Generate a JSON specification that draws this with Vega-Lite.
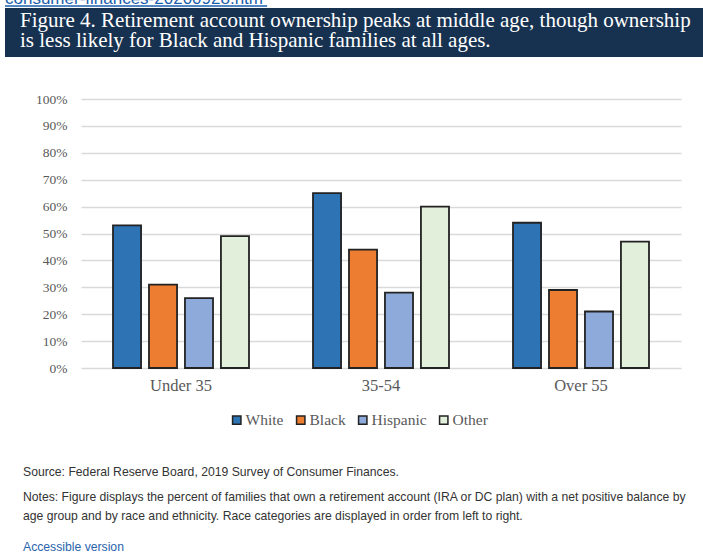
{
  "$schema": "https://vega.github.io/schema/vega-lite/v6.json",
  "padding": {"left": 4, "top": 0, "right": 0, "bottom": 0},
  "background": "white",
  "columns": 1,
  "spacing": 35,
  "resolve": {"legend": {"color": "independent"}},
  "config": {"view": {"stroke": null}},
  "concat": [
    {
      "columns": 1,
      "spacing": 0,
      "concat": [
        {
          "width": 699,
          "height": 8,
          "data": {"values": [{"link": "consumer-finances-20200928.htm"}]},
          "layer": [
            {
              "mark": {"type": "text", "clip": true, "font": "Liberation Sans", "fontSize": 17, "color": "#1a5dab", "align": "left", "baseline": "alphabetic"},
              "encoding": {
                "text": {"field": "link", "type": "nominal"},
                "x": {"datum": 0, "type": "quantitative", "scale": {"domain": [0, 1]}, "axis": null},
                "y": {"datum": 0.5, "type": "quantitative", "scale": {"domain": [0, 1]}, "axis": null}
              }
            },
            {
              "mark": {"type": "rule", "color": "#1a5dab", "strokeWidth": 1.5},
              "encoding": {
                "x": {"datum": 0, "type": "quantitative"},
                "x2": {"datum": 0.375},
                "y": {"datum": 0.25, "type": "quantitative"}
              }
            }
          ]
        },
        {
          "width": 699,
          "height": 49,
          "view": {"fill": "#173250", "stroke": null},
          "data": {"values": [{"title": "Figure 4. Retirement account ownership peaks at middle age, though ownership\nis less likely for Black and Hispanic families at all ages."}]},
          "mark": {"type": "text", "font": "Liberation Serif", "fontSize": 21, "color": "white", "align": "left", "baseline": "middle", "lineBreak": "\n", "lineHeight": 19.5, "dx": 15, "dy": -11.5},
          "encoding": {
            "text": {"field": "title", "type": "nominal"},
            "x": {"datum": 0, "type": "quantitative", "scale": {"domain": [0, 1]}, "axis": null}
          }
        }
      ]
    },
    {
      "columns": 1,
      "spacing": 30,
      "resolve": {"legend": {"color": "independent"}},
      "concat": [
        {
          "spacing": 0,
          "resolve": {"scale": {"y": "independent"}, "axis": {"y": "independent"}, "legend": {"color": "independent"}},
          "data": {
            "values": [
              {"age": "Under 35", "race": "White", "pct": 53},
              {"age": "Under 35", "race": "Black", "pct": 31},
              {"age": "Under 35", "race": "Hispanic", "pct": 26},
              {"age": "Under 35", "race": "Other", "pct": 49},
              {"age": "35-54", "race": "White", "pct": 65},
              {"age": "35-54", "race": "Black", "pct": 44},
              {"age": "35-54", "race": "Hispanic", "pct": 28},
              {"age": "35-54", "race": "Other", "pct": 60},
              {"age": "Over 55", "race": "White", "pct": 54},
              {"age": "Over 55", "race": "Black", "pct": 29},
              {"age": "Over 55", "race": "Hispanic", "pct": 21},
              {"age": "Over 55", "race": "Other", "pct": 47}
            ]
          },
          "hconcat": [
            {
              "width": 76,
              "height": 269,
              "mark": {"type": "point", "opacity": 0},
              "encoding": {
                "y": {
                  "field": "pct", "type": "quantitative",
                  "scale": {"domain": [0, 100]},
                  "axis": {"title": null, "orient": "left", "offset": -76, "values": [0, 10, 20, 30, 40, 50, 60, 70, 80, 90, 100], "labelExpr": "datum.value + '%'", "domain": false, "ticks": false, "grid": false, "labelFont": "Liberation Serif", "labelFontSize": 13.5, "labelColor": "#595959", "labelPadding": 14}
                }
              }
            },
            {
              "width": 600,
              "height": 269,
              "mark": {"type": "bar", "stroke": "#222222", "strokeWidth": 1.8},
              "encoding": {
                "x": {
                  "field": "age", "type": "nominal", "sort": ["Under 35", "35-54", "Over 55"],
                  "scale": {"paddingInner": 0.32, "paddingOuter": 0.16},
                  "axis": {"title": null, "labelAngle": 0, "domain": false, "ticks": false, "labelFont": "Liberation Serif", "labelFontSize": 16.5, "labelColor": "#595959", "labelPadding": 9}
                },
                "xOffset": {
                  "field": "race", "type": "nominal", "sort": ["White", "Black", "Hispanic", "Other"],
                  "scale": {"paddingInner": 0.22, "paddingOuter": 0}
                },
                "y": {
                  "field": "pct", "type": "quantitative",
                  "scale": {"domain": [0, 100]},
                  "axis": {"title": null, "values": [0, 10, 20, 30, 40, 50, 60, 70, 80, 90, 100], "labels": false, "domain": false, "ticks": false, "gridColor": "#d9d9d9", "gridWidth": 1.5, "minExtent": 0, "maxExtent": 0}
                },
                "color": {
                  "field": "race", "type": "nominal", "sort": ["White", "Black", "Hispanic", "Other"],
                  "scale": {"domain": ["White", "Black", "Hispanic", "Other"], "range": ["#2e73b3", "#ed7d31", "#8eaadb", "#e2efda"]},
                  "legend": {"orient": "none", "legendX": 148, "legendY": 313, "direction": "horizontal", "title": null, "symbolType": "square", "symbolSize": 70, "symbolStrokeColor": "#222222", "symbolStrokeWidth": 1.5, "labelFont": "Liberation Serif", "labelFontSize": 15.5, "labelColor": "#595959", "labelOffset": 1, "columnPadding": 9}
                }
              }
            }
          ]
        },
        {
          "width": 699,
          "height": 100,
          "data": {
            "values": [
              {"order": 1, "note": "Source: Federal Reserve Board, 2019 Survey of Consumer Finances."},
              {"order": 2, "note": "Notes: Figure displays the percent of families that own a retirement account (IRA or DC plan) with a net positive balance by\nage group and by race and ethnicity. Race categories are displayed in order from left to right."},
              {"order": 4, "note": "Accessible version"}
            ]
          },
          "mark": {"type": "text", "font": "Liberation Sans", "fontSize": 12.2, "align": "left", "baseline": "middle", "lineBreak": "\n", "lineHeight": 19, "dx": 18},
          "encoding": {
            "text": {"field": "note", "type": "nominal"},
            "x": {"datum": 0, "type": "quantitative", "scale": {"domain": [0, 1]}, "axis": null},
            "y": {"field": "order", "type": "ordinal", "axis": null, "scale": {"type": "point", "domain": [1, 2, 3, 4], "padding": 0.5}},
            "color": {"condition": {"test": "datum.order === 4", "value": "#2a64ad"}, "value": "#333333"}
          }
        }
      ]
    }
  ]
}
